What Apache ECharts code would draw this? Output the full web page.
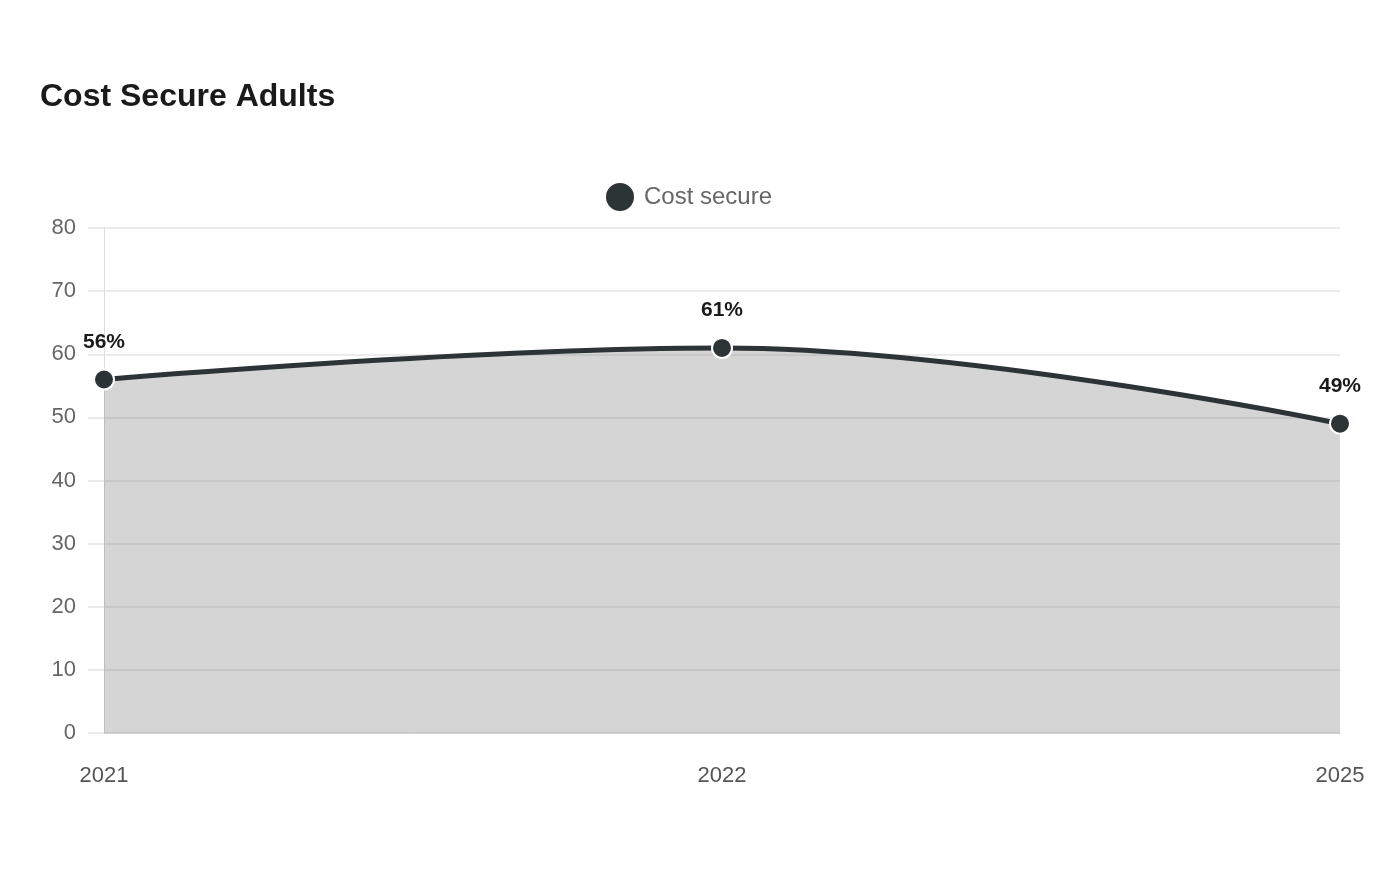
<!DOCTYPE html>
<html>
<head>
<meta charset="utf-8">
<script src="https://cdn.jsdelivr.net/npm/echarts@6/dist/echarts.min.js"></script>
<style>
  html, body { margin: 0; padding: 0; background: #fff; }
  #chart { width: 1400px; height: 880px; }
</style>
</head>
<body>
<div id="chart"></div>
<script>
const years = ['2021', '2022', '2025'];
const costSecure = [56, 61, 49];
const yTicks = { min: 0, max: 80, step: 10 };

const myChart = echarts.init(document.getElementById('chart'));

const option = {
    backgroundColor: '#ffffff',
    textStyle: { fontFamily: 'Liberation Sans, Arial, sans-serif' },
    title: {
        text: 'Cost Secure Adults',
        left: 35,
        top: 76,
        textStyle: { fontSize: 32, fontWeight: 'bold', color: '#1a1a1a' }
    },
    legend: {
        top: 176,
        left: 599,
        icon: 'circle',
        itemWidth: 30,
        itemHeight: 30,
        itemGap: 10,
        textStyle: { fontSize: 24, color: '#666666', padding: [0, 0, 0, 4] },
        data: ['Cost secure']
    },
    grid: { left: 104, right: 60, top: 228, bottom: 147 },
    xAxis: {
        type: 'category',
        data: years,
        boundaryGap: false,
        axisLine: { lineStyle: { color: '#d0d0d0' } },
        axisTick: { show: false },
        axisLabel: { fontSize: 22, color: '#555555', margin: 32 },
        splitLine: { show: false }
    },
    yAxis: {
        type: 'value',
        min: yTicks.min,
        max: yTicks.max,
        interval: yTicks.step,
        axisLine: { show: true, lineStyle: { color: '#dddddd' } },
        axisTick: { show: true, length: 16, lineStyle: { color: '#ebebeb', width: 2 } },
        axisLabel: { fontSize: 22, color: '#666666', margin: 28, padding: [4, 0, 0, 0] },
        splitLine: { lineStyle: { color: 'rgba(0,0,0,0.08)', width: 2 } }
    },
    series: [{
        name: 'Cost secure',
        type: 'line',
        data: costSecure,
        smooth: 0.4,
        symbol: 'circle',
        symbolSize: 20,
        color: '#2d3436',
        itemStyle: { color: '#2d3436', borderColor: '#ffffff', borderWidth: 2 },
        lineStyle: { color: '#2d3436', width: 5 },
        areaStyle: { color: 'rgba(128,128,128,0.33)', opacity: 1 },
        label: {
            show: true,
            position: 'top',
            distance: 16,
            formatter: p => p.value + '%',
            fontSize: 21,
            fontWeight: 'bold',
            color: '#1a1a1a'
        }
    }]
};

myChart.setOption(option);
</script>
</body>
</html>
